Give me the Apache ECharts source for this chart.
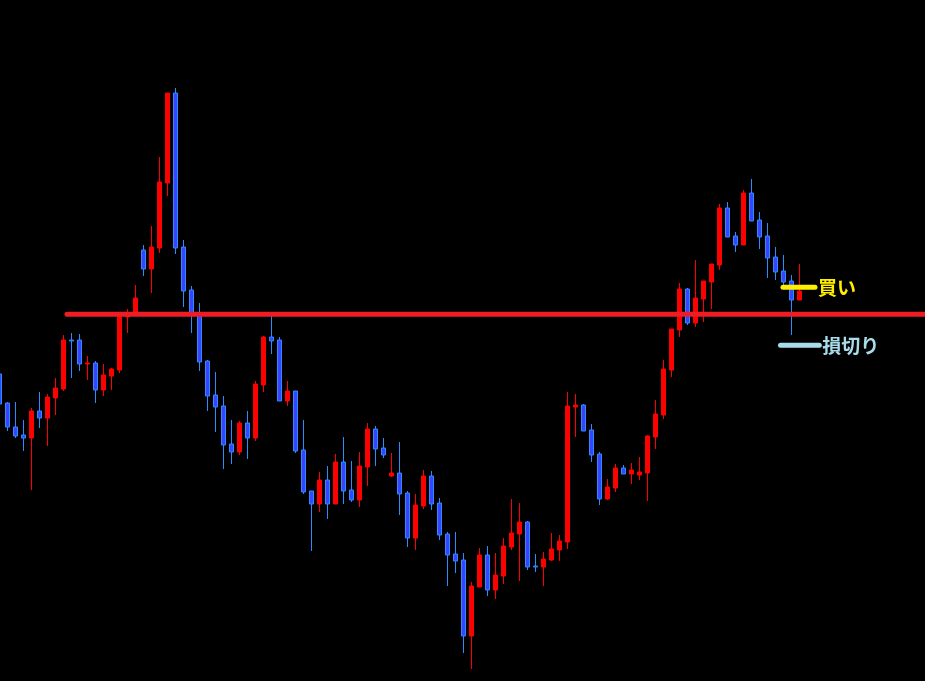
<!DOCTYPE html>
<html>
<head>
<meta charset="utf-8">
<script src="https://cdn.jsdelivr.net/npm/echarts@6/dist/echarts.min.js"></script>
<style>
html,body{margin:0;padding:0;background:#000;}
#main{width:925px;height:681px;}
</style>
</head>
<body>
<div id="main"></div>
<script>
// Candle values (price units), oldest first
const opens  = [307,278,254,246,243,270,263,283,292,341,341,317,318,291,305,311,364,368,431,412,433,498,588,434,391,367,320,286,275,237,229,258,243,296,344,341,280,290,231,190,177,201,177,219,191,181,214,252,233,205,208,188,143,175,205,178,147,127,121,45,94,126,91,105,134,147,159,115,114,121,131,139,274,276,251,227,182,193,213,207,206,208,244,266,311,351,392,358,382,399,416,473,445,436,488,461,445,424,410,400,381];
const closes = [277,254,245,243,270,263,284,293,341,340,317,318,291,306,312,366,367,383,412,434,499,588,433,390,368,319,285,274,236,229,258,243,297,344,340,280,290,230,189,177,201,177,219,190,181,215,252,232,226,208,187,143,176,205,177,146,126,120,45,95,126,91,106,135,148,159,114,114,122,132,140,275,276,250,226,182,194,213,207,211,209,245,267,312,352,392,358,383,400,417,473,444,436,488,460,444,423,409,399,381,390];
const lows   = [275,250,243,230,191,253,235,266,290,303,310,301,278,285,291,308,348,367,405,388,428,485,427,374,348,310,270,249,212,217,226,222,240,289,327,280,275,228,187,130,169,162,177,177,179,174,195,215,223,204,166,134,131,172,171,141,95,108,28,12,94,85,82,97,131,100,111,109,95,120,120,132,244,250,219,176,181,189,207,197,201,180,232,262,304,344,356,354,359,372,411,444,429,436,460,432,403,401,394,346,381];
const highs  = [309,279,279,261,273,289,287,303,346,348,347,325,320,317,313,368,372,396,436,455,524,588,593,441,395,378,321,309,285,261,260,270,300,345,366,344,300,290,261,190,209,215,227,244,220,229,258,255,243,228,239,190,187,211,210,183,149,149,128,99,133,135,128,143,182,178,160,127,129,148,146,289,287,277,257,229,202,217,216,218,224,246,281,321,352,398,393,421,400,417,477,479,449,491,502,469,458,434,426,406,417];
const totalSlots = 117; // category slots across the plot (candles + empty space on the right)
const categories = Array.from({length: totalSlots}, (_, i) => String(i + 1));

// Horizontal levels and their spans (in slot units)
const resistanceLevel = 366.7, resistanceSpan = [8.46, 116.5];
const buyLevel = 393.7, buySpan = [97.96, 101.96];
const stopLevel = 335.7, stopSpan = [97.65, 102.5];
const buyLabel = '買い', stopLabel = '損切り';

const candleData = opens.map((o, i) => [o, closes[i], lows[i], highs[i]]);

const chart = echarts.init(document.getElementById('main'), null, {renderer: 'canvas'});
const slotW = 8;
chart.setOption({
  backgroundColor: '#000000',
  animation: false,
  grid: {left: -4.7, top: 0, width: totalSlots * slotW, height: 681, containLabel: false, outerBoundsMode: 'none'},
  xAxis: [
    {type: 'category', data: categories, boundaryGap: true, show: false},
    {type: 'value', min: -0.5, max: totalSlots - 0.5, show: false}
  ],
  yAxis: {type: 'value', min: 0, max: 681, show: false},
  series: [
    {
      type: 'candlestick',
      data: candleData,
      barWidth: 4,
      itemStyle: {
        color: '#ff0000', borderColor: '#ff0000',
        color0: '#3a44ff', borderColor0: '#2b8cff',
        borderWidth: 1
      },
      z: 2
    },
    {
      type: 'line', xAxisIndex: 1, showSymbol: false, silent: true,
      data: [[resistanceSpan[0], resistanceLevel], [resistanceSpan[1], resistanceLevel]],
      lineStyle: {color: '#ee1c25', width: 5, cap: 'round'},
      z: 5
    },
    {
      type: 'line', xAxisIndex: 1, showSymbol: false, silent: true,
      data: [[buySpan[0], buyLevel], [buySpan[1], buyLevel]],
      lineStyle: {color: '#ffee00', width: 5, cap: 'round'},
      endLabel: {show: true, formatter: buyLabel, color: '#ffee00', fontSize: 19, fontWeight: 'bold',
        fontFamily: '"Noto Sans CJK JP", sans-serif', distance: 3},
      z: 6
    },
    {
      type: 'line', xAxisIndex: 1, showSymbol: false, silent: true,
      data: [[stopSpan[0], stopLevel], [stopSpan[1], stopLevel]],
      lineStyle: {color: '#a8dcea', width: 5, cap: 'round'},
      endLabel: {show: true, formatter: stopLabel, color: '#a8dcea', fontSize: 19, fontWeight: 'bold',
        fontFamily: '"Noto Sans CJK JP", sans-serif', distance: 3},
      z: 6
    }
  ]
});
</script>
</body>
</html>
